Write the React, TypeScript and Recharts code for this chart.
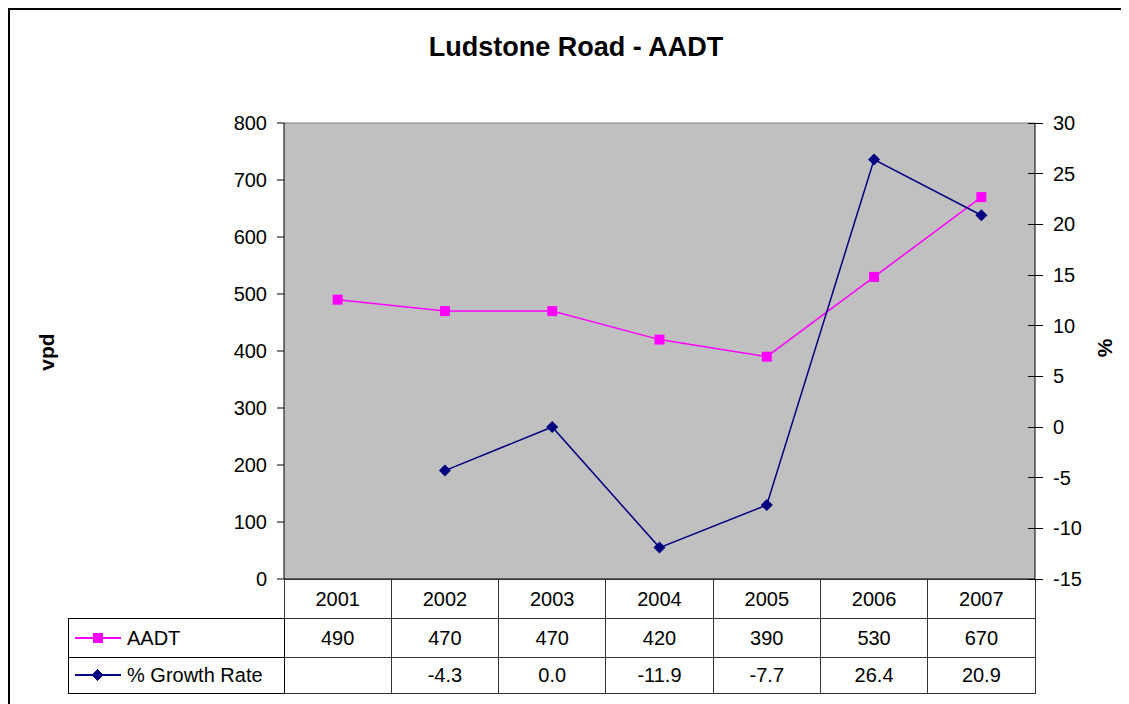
import React from 'react'
import {
    ComposedChart,
    Line,
    XAxis,
    YAxis,
    CartesianGrid,
    ReferenceLine
} from 'recharts'

// values
const years = ['2001', '2002', '2003', '2004', '2005', '2006', '2007']
const aadt = [490, 470, 470, 420, 390, 530, 670]
const growthRate: (number | null)[] = [null, -4.3, 0.0, -11.9, -7.7, 26.4, 20.9]
const vpdTicks = [0, 100, 200, 300, 400, 500, 600, 700, 800]
const pctTicks = [-15, -10, -5, 0, 5, 10, 15, 20, 25, 30]

const data = years.map((year, i) => ({
    year,
    aadt: aadt[i],
    growth: growthRate[i]
}))

const FONT = '"Liberation Sans", Arial, sans-serif'
const MAGENTA = '#FF00FF'
const NAVY = '#000080'

const ROW_H = [39, 39, 36]
const LEGEND_W = 216

function SquareDot(props: any) {
    const { cx, cy } = props
    if (cx == null || cy == null) return <g />
    return <rect x={cx - 5} y={cy - 5} width={10} height={10} fill={MAGENTA} />
}

function DiamondDot(props: any) {
    const { cx, cy } = props
    if (cx == null || cy == null) return <g />
    return (
        <polygon
            points={`${cx},${cy - 6} ${cx + 6},${cy} ${cx},${cy + 6} ${cx - 6},${cy}`}
            fill={NAVY}
        />
    )
}

// right axis tick: tick mark crosses the axis line like Excel's
function PctTick(props: any) {
    const { x, y, payload } = props
    return (
        <g>
            <line x1={x - 25} x2={x - 10} y1={y} y2={y} stroke="#000" shapeRendering="crispEdges" />
            <text x={x} y={y} dy="0.35em" fontSize={20} fill="#000" textAnchor="start">
                {payload.value}
            </text>
        </g>
    )
}

// x axis tick draws one column of the data table under the plot
function TableTick(props: any) {
    const { x, y, payload, width, visibleTicksCount } = props
    const idx = payload?.index ?? props.index ?? 0
    const cw = width && visibleTicksCount ? width / visibleTicksCount : 751 / 7
    const left = x - cw / 2
    const r1 = y + ROW_H[0]
    const r2 = r1 + ROW_H[1]
    const g = growthRate[idx]
    const textProps = {
        fontSize: 20,
        fill: '#000',
        textAnchor: 'middle' as const,
        dy: '0.35em'
    }
    return (
        <g shapeRendering="crispEdges">
            <rect x={left} y={y} width={cw} height={ROW_H[0]} fill="none" stroke="#333" />
            <rect x={left} y={r1} width={cw} height={ROW_H[1]} fill="none" stroke="#333" />
            <rect x={left} y={r2} width={cw} height={ROW_H[2]} fill="none" stroke="#333" />
            <text x={x} y={y + ROW_H[0] / 2} {...textProps}>{payload.value}</text>
            <text x={x} y={r1 + ROW_H[1] / 2} {...textProps}>{aadt[idx]}</text>
            <text x={x} y={r2 + ROW_H[2] / 2} {...textProps}>
                {g == null ? '' : g.toFixed(1)}
            </text>
            {idx === 0 && (
                <g>
                    <rect x={left - LEGEND_W} y={r1} width={LEGEND_W} height={ROW_H[1]} fill="none" stroke="#000" />
                    <rect x={left - LEGEND_W} y={r2} width={LEGEND_W} height={ROW_H[2]} fill="none" stroke="#000" />
                    <line x1={left - 209} x2={left - 163} y1={r1 + 20} y2={r1 + 20} stroke={MAGENTA} strokeWidth={1.5} />
                    <rect x={left - 191} y={r1 + 15} width={10} height={10} fill={MAGENTA} />
                    <text x={left - 157} y={r1 + 20} fontSize={20} fill="#000" dy="0.35em">AADT</text>
                    <line x1={left - 209} x2={left - 163} y1={r2 + 18} y2={r2 + 18} stroke={NAVY} strokeWidth={1.5} />
                    <polygon
                        points={`${left - 187},${r2 + 12} ${left - 181},${r2 + 18} ${left - 187},${r2 + 24} ${left - 193},${r2 + 18}`}
                        fill={NAVY}
                    />
                    <text x={left - 157} y={r2 + 18} fontSize={20} fill="#000" dy="0.35em">% Growth Rate</text>
                </g>
            )}
        </g>
    )
}

export default function App() {
    return (
        <div
            style={{
                position: 'relative',
                width: 1119,
                height: 694,
                borderLeft: '2px solid #000',
                borderTop: '2px solid #000',
                background: '#fff',
                fontFamily: FONT
            }}
        >
            <div
                style={{
                    position: 'absolute',
                    left: 366,
                    top: 24,
                    width: 400,
                    textAlign: 'center',
                    fontSize: 27,
                    lineHeight: '27px',
                    fontWeight: 'bold'
                }}
            >
                Ludstone Road - AADT
            </div>
            <div
                style={{
                    position: 'absolute',
                    left: 37,
                    top: 342,
                    transform: 'translate(-50%, -50%) rotate(-90deg)',
                    fontSize: 21,
                    fontWeight: 'bold',
                    whiteSpace: 'nowrap'
                }}
            >
                vpd
            </div>
            <div
                style={{
                    position: 'absolute',
                    left: 1095,
                    top: 338,
                    transform: 'translate(-50%, -50%) rotate(-90deg)',
                    fontSize: 21,
                    fontWeight: 'bold',
                    whiteSpace: 'nowrap'
                }}
            >
                %
            </div>
            <ComposedChart
                width={1119}
                height={694}
                data={data}
                margin={{ top: 113, right: 24, left: 214, bottom: 11 }}
            >
                <CartesianGrid
                    yAxisId="vpd"
                    horizontal={false}
                    vertical={false}
                    fill="#C0C0C0"
                    fillOpacity={1}
                />
                <XAxis
                    dataKey="year"
                    scale="band"
                    height={114}
                    interval={0}
                    axisLine={{ stroke: '#000' }}
                    tickLine={false}
                    tickSize={0}
                    tickMargin={0}
                    tick={(p: any) => <TableTick {...p} />}
                />
                <YAxis
                    yAxisId="vpd"
                    width={60}
                    domain={[0, 800]}
                    ticks={vpdTicks}
                    interval={0}
                    tickSize={7}
                    tickMargin={10}
                    axisLine={{ stroke: '#000' }}
                    tickLine={{ stroke: '#000' }}
                    tick={{ fontSize: 20, fill: '#000' }}
                />
                <YAxis
                    yAxisId="pct"
                    orientation="right"
                    width={70}
                    domain={[-15, 30]}
                    ticks={pctTicks}
                    interval={0}
                    tickSize={8}
                    tickMargin={10}
                    axisLine={{ stroke: '#000' }}
                    tickLine={false}
                    tick={(p: any) => <PctTick {...p} />}
                />
                <ReferenceLine yAxisId="vpd" y={800} stroke="#808080" />
                <Line
                    yAxisId="vpd"
                    type="linear"
                    dataKey="aadt"
                    stroke={MAGENTA}
                    strokeWidth={1.5}
                    dot={(p: any) => <SquareDot key={`a${p.index}`} {...p} />}
                    isAnimationActive={false}
                />
                <Line
                    yAxisId="pct"
                    type="linear"
                    dataKey="growth"
                    stroke={NAVY}
                    strokeWidth={1.5}
                    dot={(p: any) => <DiamondDot key={`g${p.index}`} {...p} />}
                    isAnimationActive={false}
                />
            </ComposedChart>
        </div>
    )
}
